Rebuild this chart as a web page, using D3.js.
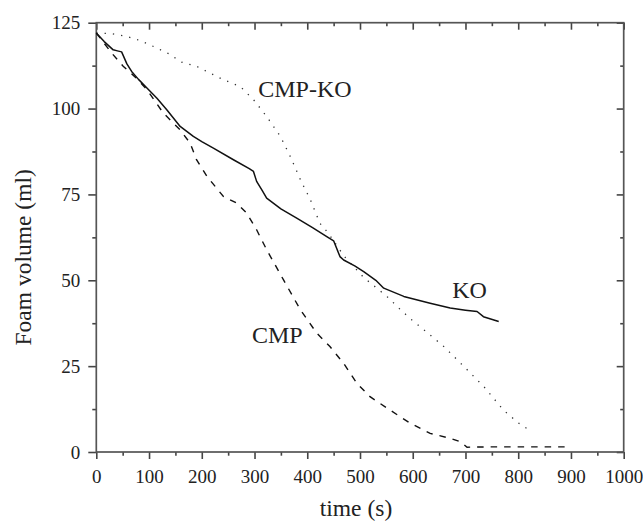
<!DOCTYPE html>
<html>
<head>
<meta charset="utf-8">
<script src="https://cdn.jsdelivr.net/npm/d3@7"></script>
<style>
  body { margin: 0; background: #fff; }
  svg, svg text { font-family: "Liberation Serif", Tinos, "Times New Roman", Times, "DejaVu Serif", serif; }
</style>
</head>
<body>
<div id="chart"></div>
<script>
// KO (solid)
const koTime   = [0, 15, 32, 40, 48, 58, 67, 80, 96, 115, 134, 159, 184, 200, 222, 260, 290, 298, 304, 315, 323, 350, 380, 410, 437, 450, 462, 469, 490, 507, 530, 545, 583, 633, 671, 700, 722, 734, 763];
const koVolume = [122, 119.5, 117.1, 116.8, 116.5, 113, 110.8, 108.5, 106, 103, 99.6, 94.8, 91.9, 90.4, 88.5, 85.1, 82.5, 81.7, 78.8, 76, 73.9, 70.8, 68.1, 65.3, 62.7, 61.5, 56.9, 55.9, 54.2, 52.5, 50, 47.7, 45.3, 43.3, 41.9, 41.3, 40.9, 39.4, 38.0];

// CMP (dashed)
const cmpTime   = [0, 15, 29, 51, 75, 96, 127, 159, 178, 190, 210, 241, 266, 285, 304, 323, 355, 387, 418, 443, 469, 494, 519, 557, 595, 633, 671, 690, 703, 750, 800, 850, 890];
const cmpVolume = [122, 119, 116.2, 112.3, 109, 105.5, 98.7, 93.8, 89.9, 85.1, 80.2, 74.4, 72.5, 69.6, 64.7, 58.9, 50.1, 41.4, 34.6, 30.7, 25.8, 20.0, 16.1, 12.2, 8.4, 5.4, 4.0, 3.0, 1.4, 1.5, 1.5, 1.5, 1.5];

// CMP-KO (dotted)
const cmpkoTime   = [0, 29, 58, 83, 111, 137, 162, 190, 212, 241, 273, 298, 323, 349, 368, 387, 406, 424, 440, 470, 507, 532, 551, 577, 598, 621, 659, 697, 735, 772, 800, 823];
const cmpkoVolume = [122, 121.8, 121, 119.8, 117.9, 116, 113.5, 112.3, 110.6, 108.4, 106.4, 102.6, 97.7, 91.9, 86.0, 79.3, 73.4, 66.6, 63.7, 57, 50.8, 47.7, 45.3, 41.4, 38.5, 35.6, 30.7, 24.9, 19.0, 12.2, 8.5, 6.2];

const xTicks = [0, 100, 200, 300, 400, 500, 600, 700, 800, 900, 1000];
const yTicks = [0, 25, 50, 75, 100, 125];

const seriesNames = ["KO", "CMP", "CMP-KO"];
const labelAt = [[675, 44.8], [295, 31.7], [307, 103.5]]; // data coords of series labels

function createFoamChart() {
    var width = 643;
    var height = 521;
    var margin = ({top: 22.7, right: 19.3, bottom: 69, left: 96.3});

    var x = d3.scaleLinear()
        .domain([0, 1000])
        .range([margin.left, width - margin.right]);

    var y = d3.scaleLinear()
        .domain([0, 125])
        .range([height - margin.bottom, margin.top]);

    var xMinor = d3.range(50, 1000, 100);
    var yMinor = d3.range(12.5, 125, 25);

    var svg = d3.select("#chart")
        .append("svg")
            .attr("width", width)
            .attr("height", height);

    var axisColor = "#444";

    function styleAxis(g) {
        g.attr("font-family", null);
        g.select(".domain").remove();
        g.selectAll(".tick line").attr("stroke", axisColor).attr("stroke-width", 1.6);
        g.selectAll(".tick text")
            .attr("font-size", 19)
            .attr("fill", "#222");
    }

    // bottom
    svg.append("g")
        .attr("transform", `translate(0,${height - margin.bottom})`)
        .call(d3.axisBottom(x).tickValues(xTicks).tickSize(7).tickPadding(11).tickFormat(d3.format("d")))
        .call(styleAxis);
    svg.append("g")
        .attr("transform", `translate(0,${height - margin.bottom})`)
        .call(d3.axisBottom(x).tickValues(xMinor).tickSize(3.7).tickFormat(""))
        .call(styleAxis);

    // top (inward)
    svg.append("g")
        .attr("transform", `translate(0,${margin.top})`)
        .call(d3.axisTop(x).tickValues(xTicks).tickSize(-7).tickFormat(""))
        .call(styleAxis);
    svg.append("g")
        .attr("transform", `translate(0,${margin.top})`)
        .call(d3.axisTop(x).tickValues(xMinor).tickSize(-3.5).tickFormat(""))
        .call(styleAxis);

    // left
    svg.append("g")
        .attr("transform", `translate(${margin.left},0)`)
        .call(d3.axisLeft(y).tickValues(yTicks).tickSize(8).tickPadding(8))
        .call(styleAxis);
    svg.append("g")
        .attr("transform", `translate(${margin.left},0)`)
        .call(d3.axisLeft(y).tickValues(yMinor).tickSize(4).tickFormat(""))
        .call(styleAxis);

    // right (inward)
    svg.append("g")
        .attr("transform", `translate(${width - margin.right},0)`)
        .call(d3.axisRight(y).tickValues(yTicks).tickSize(-7).tickFormat(""))
        .call(styleAxis);
    svg.append("g")
        .attr("transform", `translate(${width - margin.right},0)`)
        .call(d3.axisRight(y).tickValues(yMinor).tickSize(-3.5).tickFormat(""))
        .call(styleAxis);

    // frame
    svg.append("rect")
        .attr("x", x(0))
        .attr("y", y(125))
        .attr("width", x(1000) - x(0))
        .attr("height", y(0) - y(125))
        .attr("fill", "none")
        .attr("stroke", "#555")
        .attr("stroke-width", 1.7);

    var line = d3.line()
        .x(d => x(d[0]))
        .y(d => y(d[1]));

    var zip = (a, b) => a.map((t, i) => [t, b[i]]);

    svg.append("path")
        .datum(zip(cmpkoTime, cmpkoVolume))
        .attr("fill", "none")
        .attr("stroke", "#333")
        .attr("stroke-width", 1.3)
        .attr("stroke-dasharray", "1.3,7")
        .attr("d", line);

    svg.append("path")
        .datum(zip(cmpTime, cmpVolume))
        .attr("fill", "none")
        .attr("stroke", "#111")
        .attr("stroke-width", 1.4)
        .attr("stroke-dasharray", "6.5,7")
        .attr("d", line);

    svg.append("path")
        .datum(zip(koTime, koVolume))
        .attr("fill", "none")
        .attr("stroke", "#111")
        .attr("stroke-width", 1.5)
        .attr("stroke-linejoin", "round")
        .attr("d", line);

    // series labels
    svg.append("g")
        .selectAll("text")
        .data(seriesNames)
        .join("text")
            .attr("x", (d, i) => x(labelAt[i][0]))
            .attr("y", (d, i) => y(labelAt[i][1]))
            .attr("font-size", 24)
            .attr("fill", "#222")
            .text(d => d);

    // axis titles
    svg.append("text")
        .attr("x", (x(0) + x(1000)) / 2 - 4)
        .attr("y", 516)
        .attr("text-anchor", "middle")
        .attr("font-size", 23.5)
        .attr("fill", "#222")
        .text("time (s)");

    svg.append("text")
        .attr("transform", `translate(31,${(y(0) + y(125)) / 2 + 20}) rotate(-90)`)
        .attr("text-anchor", "middle")
        .attr("font-size", 23.5)
        .attr("fill", "#222")
        .text("Foam volume (ml)");
}

createFoamChart();
</script>
</body>
</html>
